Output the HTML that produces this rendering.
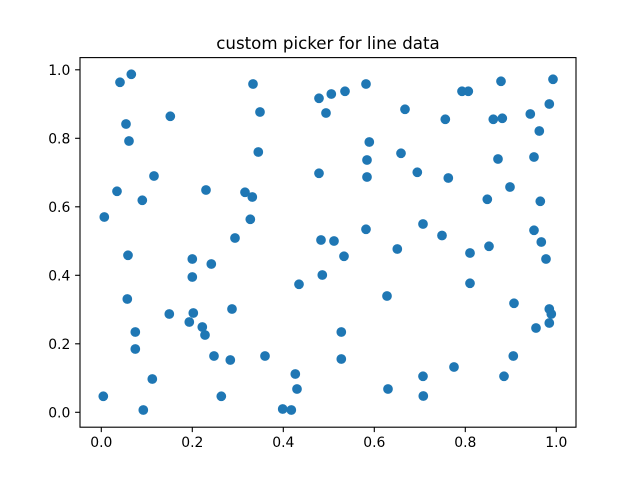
<!DOCTYPE html>
<html><head><meta charset="utf-8"><style>html,body{margin:0;padding:0;background:#fff;}svg{display:block;}</style></head>
<body>
<svg width="640" height="480" viewBox="0 0 640 480" xmlns="http://www.w3.org/2000/svg" font-family="'DejaVu Sans','Liberation Sans',sans-serif">
<rect width="640" height="480" fill="#fff"/>
<text x="328" y="49" font-size="16.67" text-anchor="middle" fill="#000">custom picker for line data</text>
<g fill="#1f77b4" stroke="#1f77b4" stroke-width="1.39">
<circle cx="120" cy="82.3" r="4.17"/>
<circle cx="131.3" cy="74.3" r="4.17"/>
<circle cx="170.3" cy="116.3" r="4.17"/>
<circle cx="126" cy="124" r="4.17"/>
<circle cx="129" cy="141" r="4.17"/>
<circle cx="154" cy="176" r="4.17"/>
<circle cx="117" cy="191.3" r="4.17"/>
<circle cx="206" cy="190" r="4.17"/>
<circle cx="142.3" cy="200.3" r="4.17"/>
<circle cx="104.3" cy="217" r="4.17"/>
<circle cx="235" cy="238" r="4.17"/>
<circle cx="253" cy="84" r="4.17"/>
<circle cx="319" cy="98.3" r="4.17"/>
<circle cx="331.3" cy="94" r="4.17"/>
<circle cx="345" cy="91.3" r="4.17"/>
<circle cx="366" cy="84" r="4.17"/>
<circle cx="260" cy="112" r="4.17"/>
<circle cx="326" cy="113" r="4.17"/>
<circle cx="405" cy="109.3" r="4.17"/>
<circle cx="369.3" cy="142" r="4.17"/>
<circle cx="258.3" cy="152" r="4.17"/>
<circle cx="401" cy="153.3" r="4.17"/>
<circle cx="367" cy="160" r="4.17"/>
<circle cx="319" cy="173.3" r="4.17"/>
<circle cx="367" cy="177" r="4.17"/>
<circle cx="245" cy="192.3" r="4.17"/>
<circle cx="252.3" cy="197" r="4.17"/>
<circle cx="250.3" cy="219.3" r="4.17"/>
<circle cx="366" cy="229.3" r="4.17"/>
<circle cx="321" cy="240" r="4.17"/>
<circle cx="334" cy="241" r="4.17"/>
<circle cx="501" cy="81.3" r="4.17"/>
<circle cx="553" cy="79.3" r="4.17"/>
<circle cx="462" cy="91.3" r="4.17"/>
<circle cx="468.3" cy="91.3" r="4.17"/>
<circle cx="445.3" cy="119.3" r="4.17"/>
<circle cx="493.3" cy="119.3" r="4.17"/>
<circle cx="502.3" cy="118.3" r="4.17"/>
<circle cx="549.3" cy="104" r="4.17"/>
<circle cx="530.3" cy="114" r="4.17"/>
<circle cx="539.3" cy="131" r="4.17"/>
<circle cx="498" cy="159" r="4.17"/>
<circle cx="534" cy="157" r="4.17"/>
<circle cx="417.3" cy="172.3" r="4.17"/>
<circle cx="448.3" cy="178" r="4.17"/>
<circle cx="510" cy="187" r="4.17"/>
<circle cx="487.3" cy="199.3" r="4.17"/>
<circle cx="540.3" cy="201.3" r="4.17"/>
<circle cx="423" cy="224" r="4.17"/>
<circle cx="442" cy="235.5" r="4.17"/>
<circle cx="534" cy="230.3" r="4.17"/>
<circle cx="541.3" cy="242" r="4.17"/>
<circle cx="128" cy="255.3" r="4.17"/>
<circle cx="192.3" cy="259" r="4.17"/>
<circle cx="211.3" cy="264" r="4.17"/>
<circle cx="192.3" cy="277" r="4.17"/>
<circle cx="127.3" cy="299" r="4.17"/>
<circle cx="232" cy="309" r="4.17"/>
<circle cx="169.3" cy="314" r="4.17"/>
<circle cx="193.3" cy="313" r="4.17"/>
<circle cx="189.3" cy="322" r="4.17"/>
<circle cx="202.3" cy="327" r="4.17"/>
<circle cx="135.3" cy="332" r="4.17"/>
<circle cx="205" cy="335" r="4.17"/>
<circle cx="135.3" cy="349" r="4.17"/>
<circle cx="214" cy="356" r="4.17"/>
<circle cx="230.3" cy="360" r="4.17"/>
<circle cx="152.3" cy="379" r="4.17"/>
<circle cx="103.3" cy="396.3" r="4.17"/>
<circle cx="221.3" cy="396.3" r="4.17"/>
<circle cx="143.3" cy="410" r="4.17"/>
<circle cx="397.3" cy="249" r="4.17"/>
<circle cx="344" cy="256.3" r="4.17"/>
<circle cx="322.3" cy="275" r="4.17"/>
<circle cx="299" cy="284.3" r="4.17"/>
<circle cx="387" cy="296" r="4.17"/>
<circle cx="341.3" cy="332" r="4.17"/>
<circle cx="265" cy="356" r="4.17"/>
<circle cx="341.3" cy="359" r="4.17"/>
<circle cx="295.3" cy="374" r="4.17"/>
<circle cx="297" cy="389" r="4.17"/>
<circle cx="388" cy="389" r="4.17"/>
<circle cx="282.7" cy="409" r="4.17"/>
<circle cx="291.3" cy="410" r="4.17"/>
<circle cx="470" cy="253" r="4.17"/>
<circle cx="489" cy="246.3" r="4.17"/>
<circle cx="546" cy="259" r="4.17"/>
<circle cx="470" cy="283.3" r="4.17"/>
<circle cx="514" cy="303.3" r="4.17"/>
<circle cx="549.3" cy="309" r="4.17"/>
<circle cx="551.3" cy="314" r="4.17"/>
<circle cx="549.3" cy="323" r="4.17"/>
<circle cx="536" cy="328" r="4.17"/>
<circle cx="513.3" cy="356" r="4.17"/>
<circle cx="454" cy="367" r="4.17"/>
<circle cx="423" cy="376.3" r="4.17"/>
<circle cx="504" cy="376.3" r="4.17"/>
<circle cx="423.3" cy="396" r="4.17"/>
</g>
<rect x="80" y="57.6" width="496" height="369.6" fill="none" stroke="#000" stroke-width="1.11"/>
<g stroke="#000" stroke-width="1.11">
<line x1="101.3" y1="427.2" x2="101.3" y2="432.1"/>
<line x1="192.3" y1="427.2" x2="192.3" y2="432.1"/>
<line x1="283.3" y1="427.2" x2="283.3" y2="432.1"/>
<line x1="374.3" y1="427.2" x2="374.3" y2="432.1"/>
<line x1="465.3" y1="427.2" x2="465.3" y2="432.1"/>
<line x1="556.3" y1="427.2" x2="556.3" y2="432.1"/>
<line x1="75.1" y1="412.3" x2="80" y2="412.3"/>
<line x1="75.1" y1="343.8" x2="80" y2="343.8"/>
<line x1="75.1" y1="275.3" x2="80" y2="275.3"/>
<line x1="75.1" y1="206.8" x2="80" y2="206.8"/>
<line x1="75.1" y1="138.3" x2="80" y2="138.3"/>
<line x1="75.1" y1="69.8" x2="80" y2="69.8"/>
</g>
<g font-size="13.9" fill="#000" text-anchor="middle">
<text x="101.3" y="447">0.0</text>
<text x="192.3" y="447">0.2</text>
<text x="283.3" y="447">0.4</text>
<text x="374.3" y="447">0.6</text>
<text x="465.3" y="447">0.8</text>
<text x="556.3" y="447">1.0</text>
</g>
<g font-size="13.9" fill="#000" text-anchor="end">
<text x="70.3" y="417.4">0.0</text>
<text x="70.3" y="348.9">0.2</text>
<text x="70.3" y="280.4">0.4</text>
<text x="70.3" y="211.9">0.6</text>
<text x="70.3" y="143.4">0.8</text>
<text x="70.3" y="74.9">1.0</text>
</g>
</svg>
</body></html>
